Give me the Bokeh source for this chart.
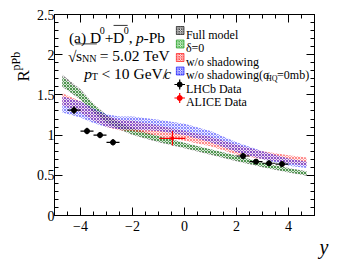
import math
from bokeh.plotting import figure
from bokeh.models import Range1d, LinearAxis, FixedTicker, Label, CustomJSTickFormatter
from bokeh.embed import file_html
from bokeh.resources import INLINE

# ---------------- data ----------------
y_grid = [-4.7, -4.0, -3.5, -3.0, -2.5, -2.0, -1.0, 0.0, 1.0, 2.0, 3.0, 4.0, 4.7]

full_lo = [1.60, 1.44, 1.28, 1.15, 1.07, 1.00, 0.91, 0.835, 0.755, 0.675, 0.60, 0.535, 0.495]
full_hi = [1.75, 1.57, 1.39, 1.25, 1.16, 1.09, 0.99, 0.905, 0.825, 0.745, 0.66, 0.59, 0.55]

delta0_lo = [1.61, 1.45, 1.29, 1.16, 1.08, 1.01, 0.92, 0.845, 0.765, 0.685, 0.605, 0.54, 0.50]
delta0_hi = [1.72, 1.55, 1.38, 1.24, 1.15, 1.08, 0.985, 0.90, 0.82, 0.74, 0.655, 0.585, 0.545]

noshad_lo = [1.37, 1.28, 1.18, 1.10, 1.06, 1.05, 0.99, 0.93, 0.86, 0.76, 0.70, 0.65, 0.62]
noshad_hi = [1.52, 1.42, 1.32, 1.24, 1.19, 1.18, 1.12, 1.05, 0.98, 0.88, 0.80, 0.75, 0.72]

noshad0_lo = [1.28, 1.22, 1.15, 1.10, 1.07, 1.07, 1.05, 1.00, 0.91, 0.79, 0.70, 0.62, 0.59]
noshad0_hi = [1.48, 1.42, 1.33, 1.26, 1.23, 1.23, 1.19, 1.14, 1.05, 0.91, 0.80, 0.71, 0.67]

lhcb_y = [-4.25, -3.75, -3.25, -2.75, 2.25, 2.75, 3.25, 3.75]
lhcb_r = [1.31, 1.05, 1.00, 0.91, 0.74, 0.67, 0.65, 0.64]
lhcb_xerr = [0.25, 0.25, 0.25, 0.25, 0.25, 0.25, 0.25, 0.25]
lhcb_rerr = [0.05, 0.04, 0.04, 0.04, 0.04, 0.03, 0.03, 0.03]

alice_y = [-0.465]
alice_r = [0.96]
alice_xerr = [0.5]
alice_rerr = [0.09]

x_major = [-4, -2, 0, 2, 4]
x_minor = [v * 0.5 for v in range(-10, 11)]
y_major = [0, 0.5, 1, 1.5, 2, 2.5]
y_minor = [v * 0.1 for v in range(0, 26)]

FONT = "Liberation Serif"
NB = "\u00a0"

# ---------------- figure ----------------
W, H = 331, 261
p = figure(width=W, height=H, output_backend="svg", toolbar_location=None,
           x_range=Range1d(-5, 5), y_range=Range1d(0, 2.5),
           min_border_left=43, min_border_right=17, min_border_top=14, min_border_bottom=46,
           x_axis_location=None, y_axis_location=None)
p.grid.visible = False
p.outline_line_color = "black"
p.outline_line_width = 1
p.background_fill_color = "white"
p.border_fill_color = "white"

fmt = CustomJSTickFormatter(code="""
var s = (Math.abs(tick) < 1e-9) ? '0' : String(Math.round(tick*10)/10);
return s.replace('-', '\u2212');
""")

def make_axis(ticker, labels=True, standoff=5):
    ax = LinearAxis(ticker=ticker, formatter=fmt)
    ax.major_tick_in = 8
    ax.major_tick_out = 0
    ax.minor_tick_in = 4
    ax.minor_tick_out = 0
    ax.axis_line_color = "black"
    ax.major_tick_line_color = "black"
    ax.minor_tick_line_color = "black"
    ax.major_label_text_font = FONT
    ax.major_label_text_font_size = "14px" if labels else "0px"
    ax.major_label_text_color = "black" if labels else None
    ax.major_label_standoff = standoff if labels else 0
    return ax

xt = FixedTicker(ticks=x_major, minor_ticks=x_minor)
yt = FixedTicker(ticks=y_major, minor_ticks=y_minor)
p.add_layout(make_axis(xt, True, 5), "below")
p.add_layout(make_axis(yt, True, 0), "left")
p.add_layout(make_axis(xt, False), "above")
p.add_layout(make_axis(yt, False), "right")

# helpers: page pixel -> data coordinates (frame: x 51..322, y 22..223 in page)
def dx(px):
    return -5 + (px - 51) / 27.1

def dy(py):
    return (223 - py) / 80.4

# ---------------- bands ----------------
bands = [
    (full_lo, full_hi, "#999999", "black"),
    (delta0_lo, delta0_hi, "#88d888", "#009000"),
    (noshad_lo, noshad_hi, "#ffaaaa", "#ff0000"),
    (noshad0_lo, noshad0_hi, "#aaaaff", "#0000ff"),
]
for lo, hi, fc, hc in bands:
    p.varea(x=y_grid, y1=lo, y2=hi, fill_color=fc, fill_alpha=0.2,
            hatch_pattern="x", hatch_color=hc, hatch_alpha=0.6, hatch_scale=3, hatch_weight=0.7)

# ---------------- data points ----------------
def errpoints(xs, ys, xe, ye, color, size, marker):
    p.segment(x0=[a - e for a, e in zip(xs, xe)], y0=ys, x1=[a + e for a, e in zip(xs, xe)], y1=ys,
              line_color=color, line_width=1.2)
    p.segment(x0=xs, y0=[b - e for b, e in zip(ys, ye)], x1=xs, y1=[b + e for b, e in zip(ys, ye)],
              line_color=color, line_width=1.2)
    p.scatter(x=xs, y=ys, size=size, marker=marker, fill_color=color, line_color=color)

errpoints(alice_y, alice_r, alice_xerr, alice_rerr, "#ff0000", 3, "circle")
errpoints(lhcb_y, lhcb_r, lhcb_xerr, lhcb_rerr, "black", 5, "circle")

# ---------------- legend (drawn by hand) ----------------
leg_rows = [38, 51.5, 65, 78.5, 92, 105.5]
icon_x0, icon_x1 = 178, 186
for (lo, hi, fc, hc), r in zip(bands, leg_rows[:4]):
    p.quad(left=[dx(icon_x0)], right=[dx(icon_x1)], bottom=[dy(r + 4)], top=[dy(r - 4)],
           fill_color=fc, fill_alpha=0.3, line_color=hc, line_width=0.6,
           hatch_pattern="x", hatch_color=hc, hatch_alpha=0.7, hatch_scale=2.5, hatch_weight=0.8)
for color, r in [("black", leg_rows[4]), ("#ff0000", leg_rows[5])]:
    p.segment(x0=[dx(176)], y0=[dy(r)], x1=[dx(187)], y1=[dy(r)], line_color=color, line_width=1.2)
    p.segment(x0=[dx(181.5)], y0=[dy(r - 5)], x1=[dx(181.5)], y1=[dy(r + 5)], line_color=color, line_width=1.2)
    p.scatter(x=[dx(181.5)], y=[dy(r)], size=5, fill_color=color, line_color=color)

def lab(text, px, py, size=12, style="normal", angle=0, align="left"):
    p.add_layout(Label(x=dx(px), y=dy(py), text=text, text_font=FONT, text_font_size=f"{size}px",
                       text_font_style=style, text_baseline="alphabetic", text_align=align,
                       angle=angle, text_color="black"))

tx = 188
lab("Full model", tx, leg_rows[0] + 4)
lab("\u03b4=0", tx, leg_rows[1] + 4)
lab("w/o shadowing", tx, leg_rows[2] + 4)
lab("w/o shadowing(\u03c3", tx, leg_rows[3] + 4)
lab("HQ", 271.5, leg_rows[3] + 7, size=8)
lab("=0mb)", 283, leg_rows[3] + 4)
lab("LHCb Data", tx, leg_rows[4] + 4)
lab("ALICE Data", tx, leg_rows[5] + 4)

# ---------------- annotations (run of text pieces, Times metrics) ----------------
ADV = {" ": 250, NB: 250, "(": 333, ")": 333, "a": 444, "D": 722, "+": 564, "0": 500, ",": 250,
       "p": 500, "-": 333, "P": 556, "b": 500, "s": 389, "N": 722, "=": 564, "5": 500,
       ".": 250, "2": 500, "T": 611, "e": 444, "V": 722, "<": 564, "1": 500, "G": 722,
       "/": 278, "c": 444, "\u221a": 549}

def run(pieces, x0, base, size):
    x = x0
    for text, kind in pieces:
        s = size
        yb = base
        st = "normal"
        if kind == "sup":
            s = size * 0.65
            yb = base - size * 0.42
        elif kind == "sub":
            s = size * 0.65
            yb = base + size * 0.2
        elif kind == "it":
            st = "italic"
        if kind == "bar":
            p.segment(x0=[dx(x + 0.5)], y0=[dy(base - size * 0.78)], x1=[dx(x + size * 0.722 + 4)],
                      y1=[dy(base - size * 0.78)], line_color="black", line_width=0.8)
        lab(text, x, yb, size=round(s, 1), style=st)
        x += sum(ADV.get(ch, 500) for ch in text) / 1000 * s
    return x

FS = 15.5
run([("(a)" + NB + "D", "n"), ("0", "sup"), ("+", "n"), ("D", "bar"), ("0", "sup"), (",", "n"),
     (NB, "n"), ("p", "it"), ("-Pb", "n")], 66, 45, FS)

x_s = 65
lab("\u221a", x_s, 64, size=FS)
xs_start = x_s + 0.549 * FS
xe = run([("s", "n"), ("NN", "sub")], xs_start, 63, FS)
p.segment(x0=[dx(xs_start - 0.5)], y0=[dy(63 - FS * 0.75)], x1=[dx(xe + 1)], y1=[dy(63 - FS * 0.75)],
          line_color="black", line_width=0.8)
run([(NB + "=" + NB + "5.02" + NB + "TeV", "n")], xe, 63, FS)

run([("p", "it"), ("T", "sub"), (NB + "<" + NB + "10" + NB + "GeV/", "n"), ("c", "it")], 82, 81, FS)

# ---------------- axis titles in side panels ----------------
p.add_layout(Label(x=9, y=134, x_units="screen", y_units="screen", text="R",
                   text_font=FONT, text_font_size="17px", text_baseline="alphabetic",
                   angle=math.pi / 2, text_color="black"), "left")
p.add_layout(Label(x=15, y=145, x_units="screen", y_units="screen", text="pPb",
                   text_font=FONT, text_font_size="12px", text_baseline="alphabetic",
                   angle=math.pi / 2, text_color="black"), "left")
p.add_layout(Label(x=274, y=9, x_units="screen", y_units="screen", text="y",
                   text_font=FONT, text_font_size="20px", text_font_style="italic",
                   text_baseline="alphabetic", text_align="right", text_color="black"), "below")

open("out.html", "w").write(file_html(p, INLINE))
